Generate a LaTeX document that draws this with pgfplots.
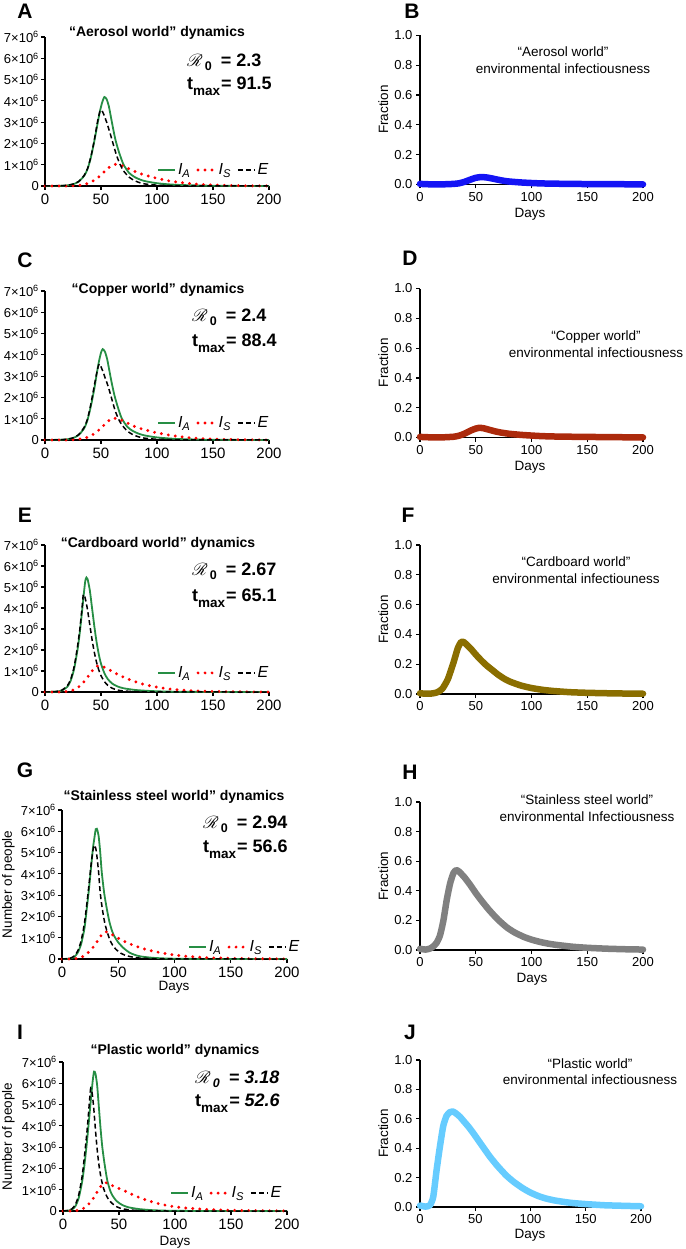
\documentclass[border=0pt]{standalone}
\usepackage{pgfplots}
\pgfplotsset{compat=1.18}
\usepackage{fontspec}
\setmainfont{Liberation Sans}
\usepackage{mathrsfs}

\definecolor{iagreen}{RGB}{38,142,68}
\definecolor{isred}{RGB}{255,0,0}
\definecolor{aerblue}{RGB}{20,20,245}
\definecolor{copper}{RGB}{172,42,12}
\definecolor{cardboard}{RGB}{138,110,0}
\definecolor{steel}{RGB}{128,128,128}
\definecolor{plastic}{RGB}{102,204,255}

\pgfplotsset{legend image code/.code={\draw[#1] (0pt,0pt) -- (17pt,0pt);}}
\pgfplotsset{
  base/.style={scale only axis, anchor=south west,
    xmin=0, xmax=200, ymin=0,
    axis x line=bottom, axis y line=left,
    axis line style={-, line width=1.3pt},
    every tick/.style={black, line width=1.2pt},
    tick align=outside, major tick length=4pt,
    xtick={0,50,100,150,200},
    /pgf/number format/assume math mode=true,
    enlargelimits=false, clip=false},
  dyn/.style={base, width=224pt, height=149pt, ymax=7, ytick={0,1,2,3,4,5,6,7},
    yticklabels={0,1×10\textsuperscript{6},2×10\textsuperscript{6},3×10\textsuperscript{6},4×10\textsuperscript{6},5×10\textsuperscript{6},6×10\textsuperscript{6},7×10\textsuperscript{6}},
    xticklabel style={font=\fontsize{15}{16}\selectfont},
    yticklabel style={font=\fontsize{13}{14}\selectfont, inner xsep=2pt},
    legend columns=3, legend cell align=left,
    legend style={draw=none, fill=none, anchor=west, inner sep=0pt,
      font=\fontsize{16}{17}\selectfont\itshape,
      /tikz/every even column/.append style={column sep=4pt}}},
  frac/.style={base, width=223pt, height=149pt, ymax=1,
    ytick={0,0.2,0.4,0.6,0.8,1}, yticklabels={0.0,0.2,0.4,0.6,0.8,1.0},
    ticklabel style={font=\fontsize{13}{14}\selectfont}},
  ia/.style={color=iagreen, line width=1.8pt, smooth, tension=0.4},
  is/.style={color=isred, line width=3.2pt, line cap=round, dash pattern=on 0pt off 7pt, smooth, tension=0.4},
  ee/.style={color=black, line width=1.5pt, dash pattern=on 5pt off 3pt, smooth, tension=0.4},
  env/.style={line width=6.5pt, line cap=round, line join=round, smooth, tension=0.35},
}

% panel letter: x, y, letter
\newcommand{\lett}[3]{\node[font=\fontsize{21}{22}\selectfont\bfseries, inner sep=0pt] at (#1pt,-#2pt) {#3};}
% bold title of a dynamics panel: x, baseline, text
\newcommand{\dtitle}[3]{\node[font=\fontsize{14}{15}\selectfont\bfseries, inner sep=0pt, anchor=base] at (#1pt,-#2pt) {#3};}
% two-line title of an environment panel: x, baseline 1, baseline 2, line 1, line 2
\newcommand{\etitle}[5]{%
  \node[font=\fontsize{13.5}{15}\selectfont, inner sep=0pt, anchor=base] at (#1pt,-#2pt) {#4};
  \node[font=\fontsize{13.5}{15}\selectfont, inner sep=0pt, anchor=base] at (#1pt,-#3pt) {#5};}
% R0 and tmax: [shape], x, baseline 1, baseline 2, R0, tmax
\newcommand{\rnull}[6][]{%
  \node[font=\fontsize{18}{19}\selectfont\bfseries, inner sep=0pt, anchor=base west] at (#2pt,-#3pt)
    {$\mathscr{R}$\hspace{-1.5pt}\raisebox{-4pt}{\fontsize{12.5}{13}\selectfont#1 0}\hspace{9pt}{#1= #5}};
  \node[font=\fontsize{18}{19}\selectfont\bfseries, inner sep=0pt, anchor=base west] at (#2pt,-#4pt)
    {t\raisebox{-6pt}{\fontsize{13.5}{14}\selectfont max}\hspace{1pt}{#1= #6}};}
\newcommand{\days}[2]{\node[font=\fontsize{13.5}{15}\selectfont, inner sep=0pt, anchor=base] at (#1pt,-#2pt) {Days};}
\newcommand{\vlab}[3]{\node[font=\fontsize{13.5}{15}\selectfont, inner sep=0pt, anchor=base, rotate=90] at (#1pt,-#2pt) {#3};}

\begin{document}
\begin{tikzpicture}
\useasboundingbox (0pt,0pt) rectangle (685pt,-1249pt);

% ---------------- A : aerosol dynamics
\begin{axis}[dyn, at={(45pt,-186pt)}, legend style={at={(0.5,0.107)}}]
\addplot[ia] coordinates {(0,0) (10,0.005) (15,0.012) (20,0.03) (25,0.08) (30,0.2) (35,0.48) (38,0.8) (41,1.35) (44,2.1) (47,2.95) (49,3.5) (51,3.92) (53,4.18) (55,4.08) (57,3.75) (59,3.2) (61,2.65) (63,2.15) (66,1.6) (70,1.02) (75,0.62) (80,0.42) (85,0.3) (90,0.22) (100,0.13) (110,0.08) (120,0.05) (140,0.02) (160,0.008) (180,0.003) (200,0.001)};
\addlegendentry{I\textsubscript{A}}
\addplot[is] coordinates {(0,0) (15,0.002) (20,0.005) (25,0.012) (30,0.03) (35,0.07) (40,0.16) (45,0.3) (50,0.52) (55,0.78) (58,0.9) (60,0.97) (63,1.02) (66,1.0) (70,0.93) (75,0.81) (80,0.69) (85,0.58) (90,0.5) (100,0.36) (110,0.25) (120,0.17) (130,0.11) (140,0.07) (150,0.045) (160,0.03) (180,0.01) (200,0.004)};
\addlegendentry{I\textsubscript{S}}
\addplot[ee] coordinates {(0,0) (10,0.006) (15,0.014) (20,0.035) (25,0.09) (30,0.21) (35,0.5) (38,0.82) (41,1.38) (44,2.15) (47,3.05) (49,3.5) (50,3.57) (51,3.53) (53,3.3) (55,3.0) (58,2.5) (61,1.95) (64,1.42) (67,1.02) (70,0.72) (75,0.42) (80,0.25) (85,0.15) (90,0.09) (100,0.04) (110,0.02) (120,0.01) (140,0.003) (200,0)};
\addlegendentry{E}
\end{axis}

% ---------------- B : aerosol environment
\begin{axis}[frac, at={(420pt,-184.5pt)}]
\addplot[env, color=aerblue] coordinates {(0,0.004) (10,0.001) (20,0.001) (30,0.004) (35,0.008) (40,0.018) (45,0.032) (50,0.045) (55,0.05) (60,0.047) (65,0.04) (70,0.032) (75,0.025) (80,0.02) (90,0.014) (100,0.01) (110,0.007) (125,0.005) (150,0.003) (175,0.002) (200,0.001)};
\end{axis}

% ---------------- C : copper dynamics
\begin{axis}[dyn, at={(45pt,-440pt)}, legend style={at={(0.5,0.114)}}]
\addplot[ia] coordinates {(0,0) (10,0.006) (15,0.014) (20,0.035) (25,0.09) (30,0.23) (35,0.55) (38,0.95) (41,1.6) (44,2.4) (46,3.05) (48,3.65) (50,4.1) (51.5,4.27) (53.5,4.15) (55.5,3.8) (57.5,3.25) (59.5,2.7) (62,2.1) (65,1.55) (68.5,1.02) (73.5,0.62) (78.5,0.42) (83.5,0.3) (88.5,0.22) (98.5,0.13) (110,0.075) (120,0.045) (140,0.018) (160,0.007) (200,0.001)};
\addlegendentry{I\textsubscript{A}}
\addplot[is] coordinates {(0,0) (15,0.002) (20,0.006) (25,0.014) (30,0.035) (35,0.08) (40,0.18) (45,0.33) (50,0.56) (55,0.82) (58,0.95) (61,1.03) (64,1.01) (68.5,0.93) (73.5,0.8) (78.5,0.67) (83.5,0.57) (88.5,0.49) (98.5,0.35) (110,0.24) (120,0.16) (130,0.1) (140,0.065) (150,0.042) (160,0.028) (180,0.01) (200,0.004)};
\addlegendentry{I\textsubscript{S}}
\addplot[ee] coordinates {(0,0) (10,0.007) (15,0.016) (20,0.04) (25,0.1) (30,0.25) (35,0.6) (38,1.0) (41,1.7) (44,2.55) (46,3.1) (47.5,3.45) (48.5,3.57) (49.5,3.5) (51.5,3.25) (53.5,2.95) (56.5,2.5) (59.5,1.95) (62.5,1.4) (65.5,1.0) (68.5,0.72) (73.5,0.42) (78.5,0.25) (83.5,0.15) (88.5,0.09) (98.5,0.04) (120,0.01) (200,0)};
\addlegendentry{E}
\end{axis}

% ---------------- D : copper environment
\begin{axis}[frac, at={(420pt,-437.5pt)}]
\addplot[env, color=copper] coordinates {(0,0.004) (10,0.001) (20,0.001) (30,0.005) (35,0.012) (40,0.026) (45,0.045) (50,0.06) (53,0.065) (57,0.062) (62,0.052) (67,0.042) (72,0.034) (80,0.025) (90,0.018) (100,0.013) (110,0.009) (125,0.006) (150,0.004) (175,0.002) (200,0.001)};
\end{axis}

% ---------------- E : cardboard dynamics
\begin{axis}[dyn, height=147pt, at={(45pt,-692pt)}, legend style={at={(0.5,0.13)}}]
\addplot[ia] coordinates {(0,0) (5,0.005) (10,0.02) (15,0.07) (20,0.25) (23,0.55) (26,1.1) (29,2.0) (31,2.8) (33,3.8) (35,4.85) (36,5.3) (37,5.45) (38,5.38) (40,4.85) (42,4.0) (44,3.15) (46,2.4) (48,1.8) (50,1.35) (53,0.9) (56,0.62) (60,0.4) (65,0.26) (70,0.18) (80,0.1) (90,0.06) (100,0.035) (110,0.02) (120,0.012) (140,0.005) (160,0.002) (200,0)};
\addlegendentry{I\textsubscript{A}}
\addplot[is] coordinates {(0,0) (10,0.002) (15,0.008) (20,0.03) (23,0.06) (26,0.11) (29,0.2) (31,0.28) (33,0.38) (35,0.5) (37,0.64) (40,0.85) (42,1.0) (44,1.13) (46,1.22) (48,1.25) (50,1.24) (53,1.18) (56,1.1) (60,0.98) (65,0.84) (70,0.71) (80,0.5) (90,0.34) (100,0.23) (110,0.15) (120,0.1) (130,0.065) (140,0.042) (160,0.018) (180,0.007) (200,0.003)};
\addlegendentry{I\textsubscript{S}}
\addplot[ee] coordinates {(0,0) (5,0.006) (10,0.025) (15,0.09) (20,0.3) (23,0.62) (26,1.2) (29,2.15) (31,2.95) (33,3.95) (34.2,4.64) (35.5,4.55) (37,4.2) (38,3.9) (40,3.2) (42,2.5) (44,1.9) (46,1.42) (48,1.05) (50,0.78) (53,0.5) (56,0.32) (60,0.18) (65,0.09) (70,0.05) (80,0.02) (90,0.008) (100,0.004) (120,0.001) (200,0)};
\addlegendentry{E}
\end{axis}

% ---------------- F : cardboard environment
\begin{axis}[frac, at={(420pt,-694pt)}]
\addplot[env, color=cardboard] coordinates {(0,0.005) (5,0.002) (10,0.003) (15,0.01) (20,0.035) (25,0.1) (30,0.21) (34,0.31) (37,0.35) (39,0.35) (42,0.33) (46,0.3) (50,0.265) (55,0.225) (60,0.19) (65,0.16) (70,0.13) (75,0.105) (80,0.085) (90,0.058) (100,0.04) (110,0.028) (120,0.02) (135,0.012) (150,0.008) (175,0.004) (200,0.002)};
\end{axis}

% ---------------- G : stainless steel dynamics
\begin{axis}[dyn, width=225pt, at={(62pt,-959pt)}, legend style={at={(0.56,0.08)}}]
\addplot[ia] coordinates {(0,0) (5,0.01) (8,0.035) (11,0.1) (14,0.3) (17,0.7) (20,1.45) (22,2.35) (24,3.3) (26,4.4) (27.5,5.2) (28.7,5.65) (30,6.1) (31,6.12) (32.5,5.8) (34,5.0) (35.3,4.1) (37.5,3.1) (39.7,2.4) (42,1.78) (44,1.4) (46,1.12) (50,0.78) (55,0.5) (60,0.3) (65,0.19) (70,0.12) (80,0.06) (90,0.03) (100,0.015) (120,0.005) (150,0.001) (200,0)};
\addlegendentry{I\textsubscript{A}}
\addplot[is] coordinates {(0,0) (8,0.004) (11,0.012) (14,0.035) (17,0.08) (20,0.16) (22,0.24) (24,0.34) (26,0.45) (28.7,0.62) (30,0.72) (31,0.8) (32.5,0.92) (34,1.05) (36,1.18) (38,1.26) (40,1.28) (42,1.24) (44,1.17) (46,1.1) (50,0.98) (55,0.84) (60,0.72) (70,0.52) (80,0.38) (90,0.27) (100,0.19) (110,0.13) (120,0.09) (130,0.06) (140,0.045) (150,0.032) (160,0.022) (180,0.01) (200,0.005)};
\addlegendentry{I\textsubscript{S}}
\addplot[ee] coordinates {(0,0) (5,0.015) (8,0.05) (11,0.15) (14,0.38) (17,0.85) (20,1.7) (22,2.55) (24,3.5) (26,4.5) (27.5,5.1) (28.7,5.35) (30,5.2) (31,4.85) (32.5,4.1) (34,3.1) (36,2.3) (38,1.7) (40,1.3) (42.5,0.9) (45,0.65) (48,0.45) (52,0.28) (56,0.18) (60,0.12) (65,0.07) (70,0.04) (80,0.015) (90,0.006) (100,0.002) (200,0)};
\addlegendentry{E}
\end{axis}

% ---------------- H : stainless steel environment
\begin{axis}[frac, height=148pt, at={(420pt,-950pt)}]
\addplot[env, color=steel] coordinates {(0,0.008) (5,0.003) (9,0.01) (12,0.025) (15,0.05) (18,0.1) (21,0.2) (24,0.34) (27,0.45) (30,0.52) (32.5,0.54) (35,0.53) (40,0.49) (45,0.44) (50,0.385) (55,0.335) (62,0.27) (70,0.205) (78,0.152) (85,0.118) (93,0.089) (100,0.07) (108,0.054) (115,0.043) (123,0.034) (137,0.022) (150,0.015) (167,0.009) (185,0.005) (200,0.003)};
\end{axis}

% ---------------- I : plastic dynamics
\begin{axis}[dyn, at={(63pt,-1211pt)}, legend style={at={(0.478,0.12)}}]
\addplot[ia] coordinates {(0,0) (5,0.02) (8,0.07) (11,0.22) (14,0.6) (17,1.35) (19,2.1) (21,3.05) (23,4.15) (25,5.3) (26.5,6.1) (27.7,6.55) (29,6.45) (30.5,5.9) (32,4.9) (33.5,3.9) (35,3.05) (37,2.25) (39.5,1.45) (42,0.98) (44,0.74) (48,0.46) (53,0.28) (58,0.18) (63,0.13) (68,0.09) (78,0.045) (88,0.022) (100,0.01) (120,0.003) (150,0.001) (200,0)};
\addlegendentry{I\textsubscript{A}}
\addplot[is] coordinates {(0,0) (8,0.005) (11,0.015) (14,0.04) (17,0.09) (20,0.18) (22,0.27) (24,0.38) (26,0.52) (28,0.67) (30,0.85) (32,1.02) (34,1.17) (36,1.28) (37.5,1.33) (39,1.32) (41,1.28) (43,1.22) (46,1.15) (50,1.06) (55,0.95) (60,0.82) (65,0.7) (70,0.6) (80,0.42) (90,0.29) (100,0.2) (110,0.14) (120,0.1) (130,0.07) (140,0.05) (150,0.035) (160,0.025) (180,0.012) (200,0.006)};
\addlegendentry{I\textsubscript{S}}
\addplot[ee] coordinates {(0,0) (5,0.03) (8,0.1) (11,0.3) (14,0.75) (17,1.6) (19,2.5) (21,3.5) (22.5,4.4) (23.7,5.2) (24.7,5.76) (26,5.55) (27.5,4.8) (29,3.8) (30.5,2.9) (32,2.2) (34,1.55) (36,1.1) (38.5,0.75) (41,0.52) (44,0.35) (48,0.2) (52,0.12) (57,0.07) (62,0.04) (70,0.015) (80,0.005) (100,0) (200,0)};
\addlegendentry{E}
\end{axis}

% ---------------- J : plastic environment
\begin{axis}[frac, width=221pt, height=147pt, at={(420pt,-1207pt)}]
\addplot[env, color=plastic] coordinates {(0,0.01) (5,0.003) (9,0.012) (12,0.07) (15,0.25) (18,0.41) (21,0.55) (24,0.62) (27,0.645) (29.5,0.65) (32,0.64) (36,0.615) (40,0.58) (44,0.545) (48,0.505) (55,0.43) (63,0.345) (70,0.28) (78,0.215) (85,0.17) (93,0.128) (100,0.098) (108,0.072) (115,0.056) (123,0.043) (137,0.028) (152,0.019) (167,0.012) (185,0.008) (200,0.005)};
\end{axis}

% ---------------- letters
\lett{25}{11}{A} \lett{412}{11}{B}
\lett{25}{260}{C} \lett{410}{258}{D}
\lett{25}{515}{E} \lett{408}{515}{F}
\lett{25}{770}{G} \lett{410}{772}{H}
\lett{20}{1032}{I} \lett{410}{1032}{J}

% ---------------- titles
\dtitle{157}{37}{“Aerosol world” dynamics}
\dtitle{158}{293}{“Copper world” dynamics}
\dtitle{158}{547}{“Cardboard world” dynamics}
\dtitle{174}{800}{“Stainless steel world” dynamics}
\dtitle{175}{1054}{“Plastic world” dynamics}

\etitle{563}{57}{74}{“Aerosol world”}{environmental infectiousness}
\etitle{596}{340}{357}{“Copper world”}{environmental infectiousness}
\etitle{576}{566}{583}{“Cardboard world”}{environmental infectiouness}
\etitle{587}{804}{821}{“Stainless steel world”}{environmental Infectiousness}
\etitle{590}{1068}{1084}{“Plastic world”}{environmental infectiousness}

% ---------------- R0 and tmax
\rnull{187}{67}{90}{2.3}{91.5}
\rnull{192}{321}{346}{2.4}{88.4}
\rnull{192}{575}{601}{2.67}{65.1}
\rnull{203}{828}{852}{2.94}{56.6}
\rnull[\itshape]{195}{1083}{1106}{3.18}{52.6}

% ---------------- axis labels
\days{530}{218} \days{530}{470}
\days{174}{990} \days{532}{982}
\days{175}{1245} \days{530}{1238}
\vlab{388}{109.5}{Fraction}
\vlab{388}{362.7}{Fraction}
\vlab{388}{619.5}{Fraction}
\vlab{388}{876}{Fraction}
\vlab{388}{1133.5}{Fraction}
\vlab{12}{884.5}{Number of people}
\vlab{12}{1136.5}{Number of people}
\end{tikzpicture}
\end{document}
